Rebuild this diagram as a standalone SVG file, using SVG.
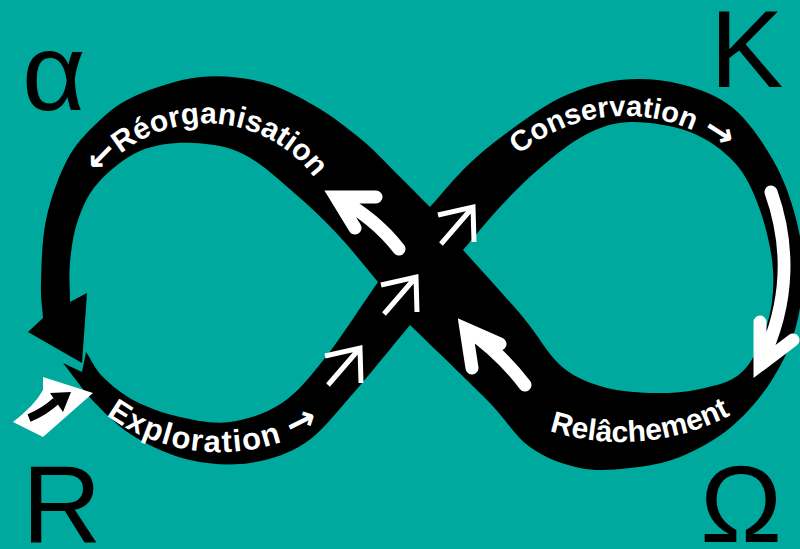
<svg xmlns="http://www.w3.org/2000/svg" xmlns:xlink="http://www.w3.org/1999/xlink" width="800" height="549" viewBox="0 0 800 549">
<style>
.lbl{font-family:"Liberation Sans",Arial,sans-serif;font-weight:bold;font-size:30px;fill:#fff}
.arr{font-family:"DejaVu Sans",sans-serif;font-weight:bold;font-size:36px}
.big{font-family:"Liberation Sans",Arial,sans-serif;font-size:110px;fill:#000}
.wa{fill:none;stroke:#fff;stroke-width:13;stroke-linecap:round;stroke-linejoin:miter;stroke-miterlimit:10}
.sa{fill:none;stroke:#fff;stroke-width:5;stroke-linejoin:miter;stroke-miterlimit:10}
</style>
<defs>
<path id="pReorg" d="M95.8,180.6 A135,135 0 0,1 318,183"/>
<path id="pCons" d="M519.6,154.4 A164,164 0 0,1 725,150"/>
<path id="pExpl" d="M87.9,400.2 A193,193 0 0,0 340,410"/>
<path id="pRel" d="M521.3,419.9 A236,236 0 0,0 756.4,399.3"/>
<path id="small" class="sa" d="M-35,8 L0,0 L1,35 M0,0 L-32,37"/>
</defs>
<rect width="800" height="549" fill="#00a99d"/>
<g id="loop">
<path fill="#000" fill-rule="evenodd" d="M430,207 C441,194.7 451.3,181.5 463,170 S483.8,150 500,138 S540,107.7 560,98 S600,82.3 620,80 S661.2,79.3 680,84 S717.5,95.3 733,108 S762.7,142.2 773,160 S790,196.7 795,215 S803,250.8 803,270 S800.5,311.2 795,330 S780.8,366.7 770,383 S745,415.7 730,428 S696.7,450.3 680,457 S646.7,466.2 630,468 S596.7,471.5 580,468 S545.5,458.3 530,447 S507,420.3 487,400 C467,379.7 435.7,350 410,325 C390,349 367.5,377.3 350,397 S321.7,432 305,443 S269.2,460.2 250,463 S209.2,464.3 190,460 S150.8,446.5 135,437 S107,415.3 95,403 S73.7,376.3 63,363 L82,372 L86,352 C91.7,360.3 94.8,368.8 103,377 S122.2,394.3 135,401 S164.2,413.5 180,417 S213,424.3 230,422 S266.2,413.7 282,403 S309,378.2 325,358 S360.3,307.3 378,282 C365.3,267 353,251 340,237 S315.8,211.7 300,198 S262.8,164.2 245,155 S210.5,143.7 193,143 S155.8,144.3 140,151 S108.3,171.5 98,183 S82.7,206.8 78,220 S71.3,248.3 70,262 S70,288.7 70,302 L87,293 L82,363 L28,332 L43,318 C42.3,306.3 40.5,299.3 41,283 S41.7,240.5 46,220 S58.5,176.2 67,160 S85.7,133.7 97,123 S117.8,103.7 135,96 S178.8,79.3 200,77 S242.8,77.2 262,82 S298.3,96.3 315,106 S348.7,129 362,140 S383.7,160.8 395,172 S418.3,195.3 430,207 Z M463,250 C475.3,235.7 487.2,220.7 500,207 S525.8,180 540,168 S570,142.7 585,135 S612.5,122.5 630,122 S672.5,125.2 690,132 S723.3,150 735,163 S753.7,192.2 760,210 S771.8,250.8 773,270 S772.2,308 767,325 S753.2,361.3 742,372 S715.3,385.5 700,389 S666.7,393.5 650,393 S615,390.7 600,386 S573,376.7 560,365 S538.2,335.2 522,316 S482.7,272 463,250 Z"/>
</g>
<g id="connectors">
<path class="wa" d="M376,197 L336,197 L355,228 M336,197 Q375,218 399,249"/>
<path class="wa" d="M500,344 L466,329 L472,368 M466,329 Q500,352 525,385"/>
<path class="wa" d="M771,192 C788,240 792,300 760,364 M760,322 L760,365 L793,340"/>
<use xlink:href="#small" transform="translate(473,207)"/>
<use xlink:href="#small" transform="translate(416,277)"/>
<use xlink:href="#small" transform="translate(360,348)"/>
</g>
<g id="icon-r">
<path fill="#fff" d="M43,377 L93,393 L43,437 L13,422 Q35,405 43,390 Z"/>
<path fill="none" stroke="#000" stroke-width="8" d="M29,418 Q44,412 56,401"/>
<polygon fill="#000" points="71,392 50,393 63,412"/>
</g>
<g id="labels">
<text class="lbl"><textPath xlink:href="#pReorg" startOffset="50%" text-anchor="middle"><tspan class="arr">←</tspan>Réorganisation</textPath></text>
<text class="lbl" style="font-size:29px"><textPath xlink:href="#pCons" startOffset="50%" text-anchor="middle">Conservation <tspan class="arr">→</tspan></textPath></text>
<text class="lbl" style="font-size:31px;letter-spacing:1.4px"><textPath xlink:href="#pExpl" startOffset="50%" text-anchor="middle">Exploration <tspan class="arr">→</tspan></textPath></text>
<text class="lbl"><textPath xlink:href="#pRel" startOffset="50%" text-anchor="middle">Relâchement</textPath></text>
</g>
<g id="node-alpha"><text class="big" x="22" y="110">α</text></g>
<g id="node-K"><text class="big" x="710" y="87">K</text></g>
<g id="node-R"><text class="big" x="22" y="542">R</text></g>
<g id="node-Omega"><text class="big" x="700" y="542">Ω</text></g>
</svg>
